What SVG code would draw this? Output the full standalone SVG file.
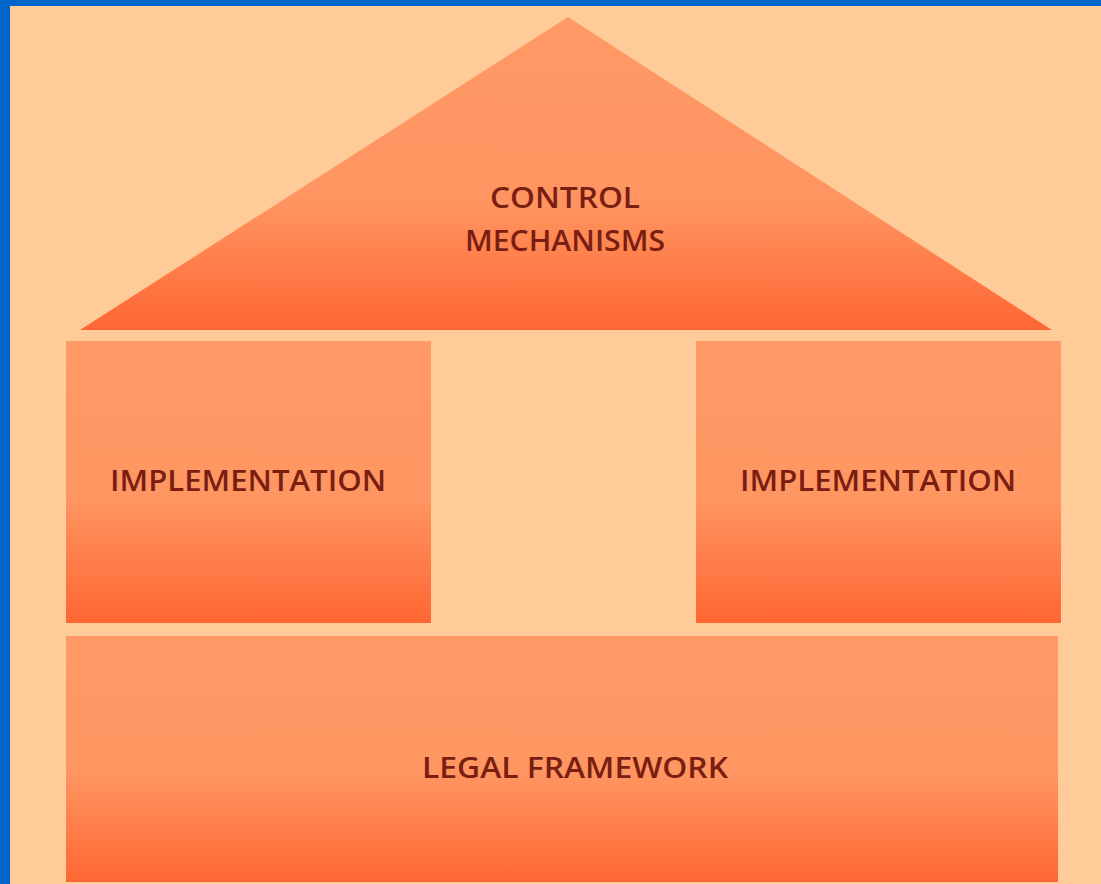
<svg xmlns="http://www.w3.org/2000/svg" width="1101" height="884" viewBox="0 0 1101 884">
<defs>
<linearGradient id="gRoof" x1="0" y1="0" x2="0" y2="1">
<stop offset="0" stop-color="#FF9966"/>
<stop offset="0.6" stop-color="#FF9460"/>
<stop offset="1" stop-color="#FF6633"/>
</linearGradient>
<linearGradient id="gBox" x1="0" y1="0" x2="0" y2="1">
<stop offset="0" stop-color="#FF9966"/>
<stop offset="0.55" stop-color="#FF9662"/>
<stop offset="1" stop-color="#FF6633"/>
</linearGradient>
<style>
.lbl{font-family:"Open Sans","DejaVu Sans",sans-serif;font-size:28px;font-weight:600;fill:#7A1E12;text-anchor:middle}
</style>
</defs>
<rect x="0" y="0" width="1101" height="884" fill="#0066CC"/>
<rect x="10" y="6" width="1091" height="878" fill="#FFCC99"/>
<g id="roof">
<polygon points="568,17 1052,330 80,330" fill="url(#gRoof)"/>
<text class="lbl" x="565" y="208" textLength="150" lengthAdjust="spacingAndGlyphs">CONTROL</text>
<text class="lbl" x="565" y="251" textLength="200" lengthAdjust="spacingAndGlyphs">MECHANISMS</text>
</g>
<g id="impl-left">
<rect x="66" y="341" width="365" height="282" fill="url(#gBox)"/>
<text class="lbl" x="248" y="491" textLength="276" lengthAdjust="spacingAndGlyphs">IMPLEMENTATION</text>
</g>
<g id="impl-right">
<rect x="696" y="341" width="365" height="282" fill="url(#gBox)"/>
<text class="lbl" x="878" y="491" textLength="276" lengthAdjust="spacingAndGlyphs">IMPLEMENTATION</text>
</g>
<g id="legal">
<rect x="66" y="636" width="992" height="246" fill="url(#gBox)"/>
<text class="lbl" x="575" y="778" textLength="306" lengthAdjust="spacingAndGlyphs">LEGAL FRAMEWORK</text>
</g>
<g id="connectors"/>
</svg>
